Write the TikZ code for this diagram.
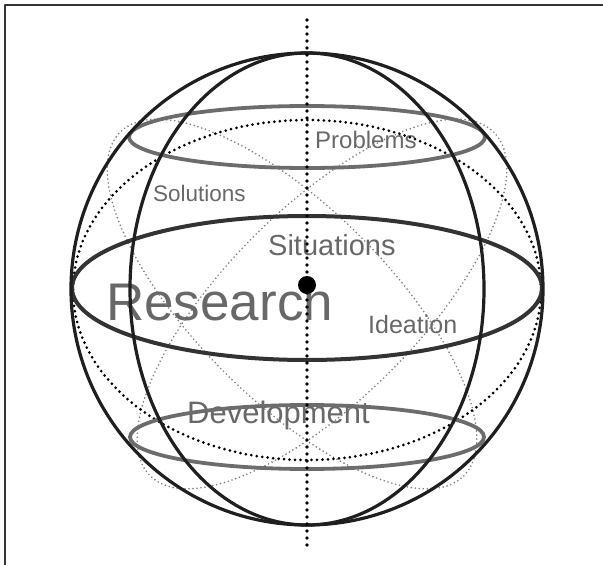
\documentclass[tikz,border=0pt]{standalone}
\usepackage{fontspec}
\setmainfont{Liberation Sans}
\definecolor{textgray}{HTML}{686868}
\definecolor{ringgray}{HTML}{6C6C6C}
\definecolor{finegray}{HTML}{7E7E7E}
\begin{document}
\begin{tikzpicture}[x=1pt, y=-1pt, line join=round,
  frame/.style={line width=2.2pt, draw=black!80},
  wire/.style={line width=3.2pt, draw=black!88},
  band/.style={line width=3.8pt, draw=ringgray},
  dots/.style={line width=3pt, dash pattern=on 0pt off 5.5pt, line cap=round},
  fine/.style={line width=1.8pt, draw=finegray, dash pattern=on 0pt off 4pt, line cap=round},
  lbl/.style={text=textgray, inner sep=0pt, anchor=base west}]
  \useasboundingbox (0,0) rectangle (603,565);
  %--- Frame
    \draw[frame] (5,565) -- (5,5) -- (603,5);
  %--- Centre
    \coordinate (c) at (307,289);
  %--- Labels
    \node[lbl, font=\fontsize{24}{28}\selectfont] (problems) at (315,148) {Problems};
    \node[lbl, font=\fontsize{22.5}{26}\selectfont] (solutions) at (153,201) {Solutions};
    \node[lbl, font=\fontsize{29}{34}\selectfont] (situations) at (268,255) {Situations};
    \node[lbl, font=\fontsize{53}{60}\selectfont] (research) at (106,320) {Research};
    \node[lbl, font=\fontsize{25}{30}\selectfont] (ideation) at (368,333) {Ideation};
    \node[lbl, font=\fontsize{31}{36}\selectfont] (development) at (187,423) {Development};
  %--- Tilted rings
    \draw[fine, rotate around={-45:(292,304)}] (292,304) ellipse [x radius=243pt, y radius=96pt];
    \draw[fine, rotate around={45:(322,304)}] (322,304) ellipse [x radius=243pt, y radius=96pt];
  %--- Dotted great circle
    \draw[dots, draw=black] (307,290) ellipse [x radius=234pt, y radius=170pt];
  %--- Problems and Development rings
    \draw[band] (307,137) ellipse [x radius=178pt, y radius=31pt];
    \draw[band] (307,437) ellipse [x radius=177pt, y radius=32pt];
  %--- Equator
    \draw[wire, line width=4pt, draw=black!80] (307,288) ellipse [x radius=235pt, y radius=72pt];
  %--- Sphere and meridian
    \draw[wire] (c) circle [radius=236pt];
    \draw[wire] (c) ellipse [x radius=177pt, y radius=236pt];
  %--- Axis
    \coordinate (top) at (307,20);
    \coordinate (bottom) at (307,546);
    \draw[dots, line width=3.8pt, dash pattern=on 0pt off 7pt, draw=black] (top) -- (bottom);
    \fill[black] (307,285) circle [radius=9pt];
\end{tikzpicture}
\end{document}
